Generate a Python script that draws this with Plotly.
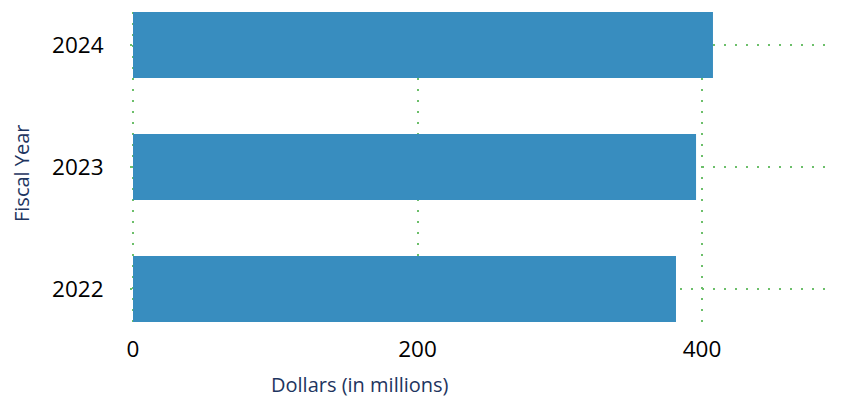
import plotly.graph_objects as go

years = ["2022", "2023", "2024"]
values = [381.7, 395.8, 407.7]
x_ticks = [0, 200, 400]

bar_color = "#388dbf"
grid_color = "#6cbf6a"
title_color = "#1e3560"

fig = go.Figure(go.Bar(
    y=years, x=values, orientation="h",
    marker=dict(color=bar_color, line=dict(width=0)),
    width=0.54,
))

# page body has an 8px margin; figure sized so the page matches 842x398
L, R, T, B, W, H = 122, 0, 4, 76, 834, 390

fig.update_layout(
    width=W, height=H,
    margin=dict(l=L, r=R, t=T, b=B, autoexpand=False),
    plot_bgcolor="white", paper_bgcolor="white",
    showlegend=False,
    font=dict(family="Open Sans", color="black"),
    xaxis=dict(
        range=[-2.11, 498.4], tickvals=x_ticks, ticktext=[str(v) for v in x_ticks],
        showgrid=True, gridcolor=grid_color, gridwidth=2, griddash="2px,9px",
        zeroline=False, showline=False, automargin=False,
        tickfont=dict(size=22.5, color="black"),
        ticks="outside", ticklen=7, tickcolor="rgba(0,0,0,0)",
    ),
    yaxis=dict(
        type="category", range=[-0.27, 2.27],
        showgrid=True, gridcolor=grid_color, gridwidth=2, griddash="2px,9px",
        zeroline=False, showline=False, automargin=False,
        tickfont=dict(size=22.5, color="black"),
        ticks="outside", ticklen=21, tickcolor="rgba(0,0,0,0)",
    ),
)

pw = W - L - R
ph = H - T - B


def px(x, y):
    # screen pixel -> paper coords (figure offset by 8px)
    return (x - 8 - L) / pw, (H - B - (y - 8)) / ph


ax, ay = px(360, 384)
fx, fy = px(22, 173)
fig.add_annotation(text="Dollars (in millions)", x=ax, y=ay, xref="paper", yref="paper",
                   xanchor="center", yanchor="middle", showarrow=False,
                   font=dict(size=20, color=title_color, family="Open Sans"))
fig.add_annotation(text="Fiscal Year", textangle=-90, x=fx, y=fy, xref="paper", yref="paper",
                   xanchor="center", yanchor="middle", showarrow=False,
                   font=dict(size=20, color=title_color, family="Open Sans"))

fig.write_html("out.html")
